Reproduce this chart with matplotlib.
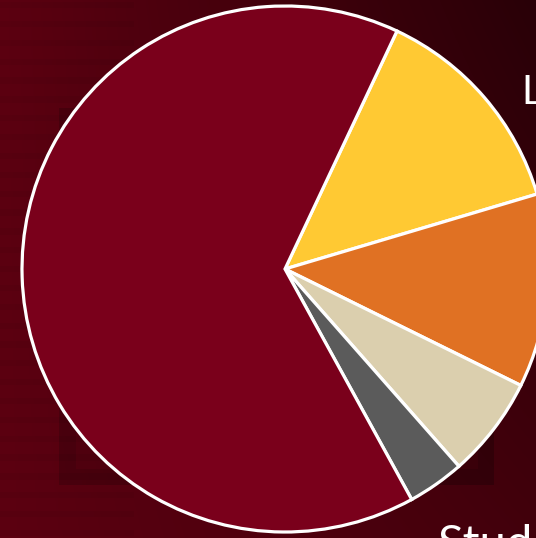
import matplotlib.pyplot as plt
import numpy as np

# Share of each group (percent), clockwise from the top-right edge
groups = ["Library", "Faculty", "Staff", "Other", "Students"]
shares = [13.4, 11.9, 6.2, 3.5, 65.0]
colors = ["#ffc933", "#e07123", "#dbcfae", "#5b5b5b", "#7a001b"]

W, H, DPI = 536, 538, 100
fig = plt.figure(figsize=(W / DPI, H / DPI), dpi=DPI)

# Dark red backdrop: lighter on the left, fading toward the top right
bg = fig.add_axes([0, 0, 1, 1])
bg.set_axis_off()
yy, xx = np.mgrid[0:H, 0:W] / np.array([H, W])[:, None, None]
red = 0.36 - 0.10 * xx - 0.10 * xx * (1 - yy)
# faint brick rows on the wall
rows = 0.015 * (np.sin(np.arange(H) / 3.0) > 0.5)
red = red - rows[:, None] * (xx < 0.25)
# slightly darker recessed window frame behind the chart
frame = (xx > 0.11) & (xx < 0.92) & (yy > 0.2) & (yy < 0.9)
red[frame] -= 0.03
ring = frame & ~((xx > 0.14) & (xx < 0.89) & (yy > 0.23) & (yy < 0.87))
red[ring] -= 0.03
red = np.clip(red, 0.12, 0.5)
img = np.zeros((H, W, 3))
img[..., 0] = red
img[..., 2] = red * 0.18
bg.imshow(img, extent=[0, 1, 0, 1], aspect="auto", origin="upper")
bg.set_xlim(0, 1)
bg.set_ylim(0, 1)

# Pie chart, centred at pixel (285, 269) with radius 263 px
ax = fig.add_axes([0, 0, 1, 1])
ax.set_axis_off()
R = 263
cx, cy = 285, 269
ax.pie(shares, colors=colors, startangle=64.8, counterclock=False, radius=1.0,
       wedgeprops=dict(edgecolor="white", linewidth=2.3))
ax.set_aspect("equal")
ax.set_xlim(-cx / R, (W - cx) / R)
ax.set_ylim(-(H - cy) / R, cy / R)

# Labels, partly running off the edge
fig.text(521 / W, 1 - 104 / H, "Library", color="white", fontsize=29,
         family="Lato", ha="left", va="baseline")
fig.text(437 / W, 1 - 558 / H, "Students", color="white", fontsize=34,
         family="Lato", ha="left", va="baseline")

fig.savefig("out.png", dpi=DPI)
